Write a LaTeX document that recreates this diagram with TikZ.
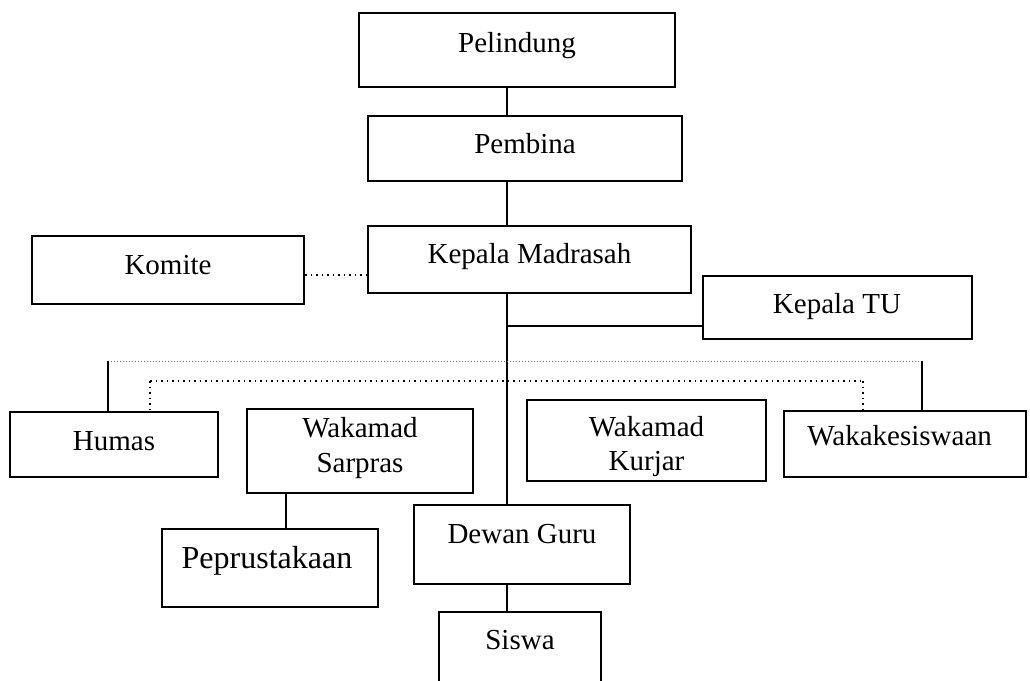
\documentclass[tikz,border=0pt]{standalone}
\usepackage{fontspec}
\setmainfont{Liberation Serif}
\usetikzlibrary{fit}
\tikzset{
  obox/.style={draw=black, line width=1pt, inner sep=0pt, fill=white},
  lbl/.style={anchor=base, inner sep=0pt, font=\fontsize{14.5}{17.5}\selectfont},
  biglbl/.style={anchor=base, inner sep=0pt, font=\fontsize{16}{19}\selectfont},
  link/.style={draw=black, line width=0.75pt},
  dotlink/.style={draw=black, line width=0.75pt, dotted},
  graydot/.style={draw=black!55, line width=0.5pt, densely dotted},
}
\begin{document}
\begin{tikzpicture}[x=0.5pt, y=-0.5pt]
\clip (0,0) rectangle (1030,681);
\fill[white] (0,0) rectangle (1030,681);
% boxes
\node[obox, fit={(359,13) (675,87)}] (pel) {};
\node[obox, fit={(368,116) (682,181)}] (pem) {};
\node[obox, fit={(368,226) (691,293)}] (km) {};
\node[obox, fit={(32,236) (304,304)}] (kom) {};
\node[obox, fit={(703,276) (972,339)}] (tu) {};
\node[obox, fit={(10,412) (218,477)}] (hum) {};
\node[obox, fit={(247,409) (473,493)}] (sar) {};
\node[obox, fit={(527,400) (766,481)}] (kur) {};
\node[obox, fit={(784,411) (1026,477)}] (wks) {};
\node[obox, fit={(162,529) (378,607)}] (pep) {};
\node[obox, fit={(414,505) (630,584)}] (dg) {};
\node[obox, fit={(439,612) (601,720)}] (sis) {};
% labels
\node[lbl] (pelT) at (517,52) {Pelindung};
\node[lbl] (pemT) at (525,153) {Pembina};
\node[lbl] (kmT) at (529.5,263) {Kepala Madrasah};
\node[lbl] (komT) at (168,274) {Komite};
\node[lbl] (tuT) at (837,313) {Kepala TU};
\node[lbl] (humT) at (114,450) {Humas};
\node[lbl] (sarT1) at (360,437) {Wakamad};
\node[lbl] (sarT2) at (360,472) {Sarpras};
\node[lbl] (kurT1) at (646.5,436) {Wakamad};
\node[lbl] (kurT2) at (646.5,470) {Kurjar};
\node[lbl, anchor=base west] (wksT) at (807,445) {Wakakesiswaan};
\node[biglbl] (pepT) at (267,568) {Peprustakaan};
\node[lbl] (dgT) at (522,543) {Dewan Guru};
\node[lbl] (sisT) at (520,649) {Siswa};
% coordinates for line corners
\coordinate (spine) at (507,0);
\coordinate (tuj) at (507,326);
\coordinate (gL) at (108,361);
\coordinate (gR) at (922,361);
\coordinate (dL) at (150,381);
\coordinate (dR) at (863,381);
\coordinate (sp) at (286,0);
% connectors
\draw[link] (pel.south -| spine) -- (pem.north -| spine);
\draw[link] (pem.south -| spine) -- (km.north -| spine);
\draw[link] (km.south -| spine) -- (dg.north -| spine);
\draw[link] (tuj) -- (tuj -| tu.west);
\draw[link] (dg.south -| spine) -- (sis.north -| spine);
\draw[link] (sar.south -| sp) -- (pep.north -| sp);
\draw[dotlink] (kom.east |- 0,275) -- (km.west |- 0,275);
\draw[graydot] (gL) -- (gR);
\draw[link] (gL) -- (gL |- hum.north);
\draw[link] (gR) -- (gR |- wks.north);
\draw[dotlink] (dL) -- (dR);
\draw[dotlink] (dL) -- (dL |- hum.north);
\draw[dotlink] (dR) -- (dR |- wks.north);
\end{tikzpicture}
\end{document}
